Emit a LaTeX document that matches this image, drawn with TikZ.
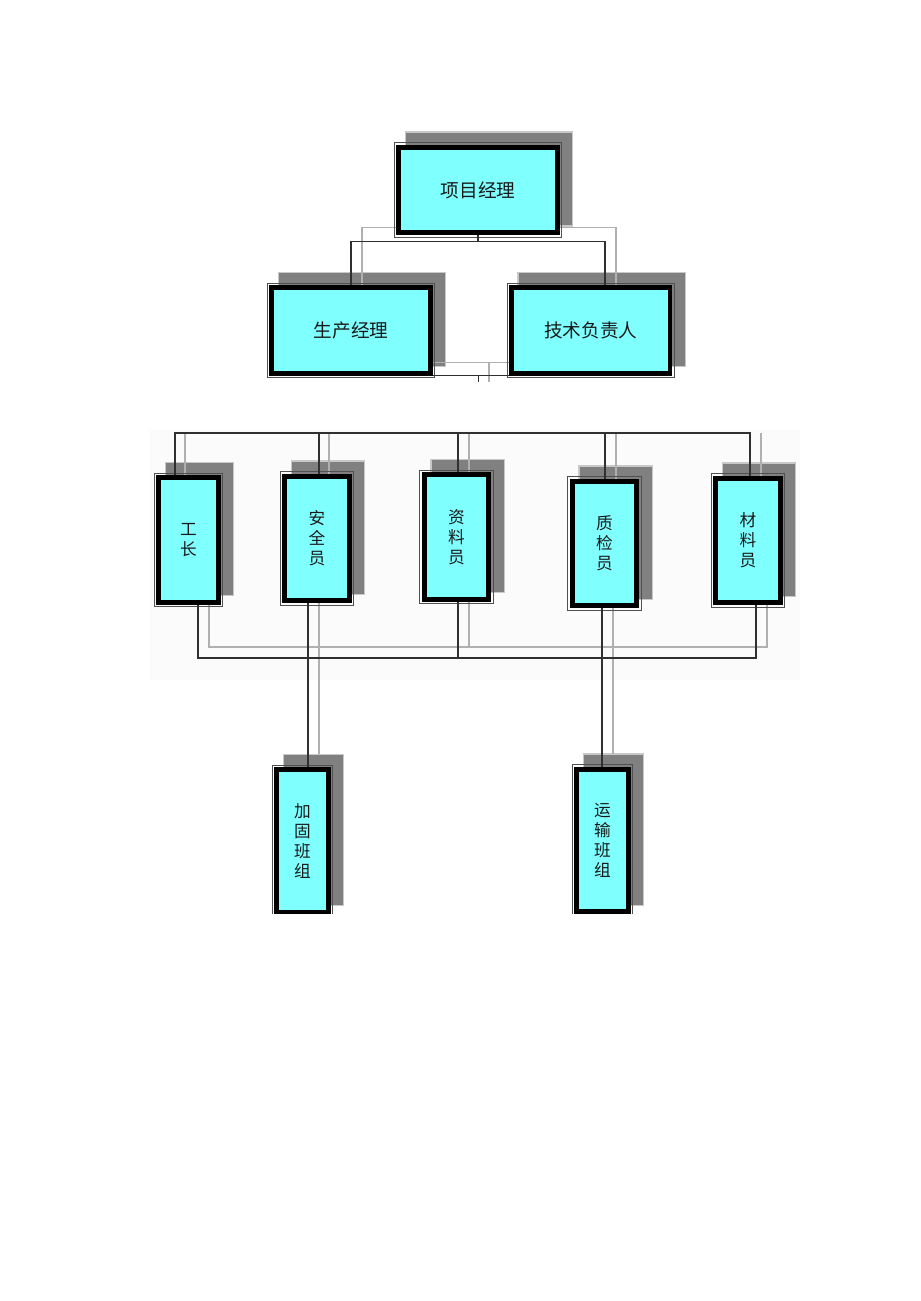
\documentclass[tikz,border=0pt]{standalone}
\usepackage{fontspec}
\usepackage{tikz}
\usetikzlibrary{positioning,backgrounds,calc}
\newfontfamily\cjk{Noto Sans CJK SC}
\definecolor{boxcyan}{RGB}{128,255,255}
\definecolor{rimgray}{RGB}{80,80,80}
\definecolor{shadegray}{RGB}{128,128,128}
\definecolor{edgegray}{RGB}{200,200,200}
\definecolor{wiregray}{RGB}{48,48,48}
\definecolor{litegray}{RGB}{176,176,176}

\begin{document}
\begin{tikzpicture}[x=0.75pt,y=-0.75pt,
  mgr/.style={draw=black,line width=3.6pt,fill=boxcyan,minimum width=119pt,minimum height=64pt,inner sep=0pt,text=black!90,font=\cjk\fontsize{14}{16}\selectfont},
  post/.style={mgr,minimum width=48.5pt,minimum height=93.5pt,align=center,font=\cjk\fontsize{12.5}{15}\selectfont},
  crew/.style={post,minimum width=38.5pt,minimum height=107pt},
  rim/.style={draw=rimgray,line width=0.75pt},
  boxshadow/.style={draw=edgegray,line width=1.1pt,fill=shadegray},
  wire/.style={draw=wiregray,line width=1.4pt},
  wirelite/.style={draw=litegray,line width=1.4pt}
]
\useasboundingbox (0,0) rectangle (920,1301);

\node[mgr] (pm) at (478,190) {项目经理};
\node[mgr] (prod) at (351,330.5) {生产经理};
\node[mgr,right=57.2pt of prod] (tech) {技术负责人};

\node[post,minimum width=44.5pt] (gz) at (188.5,540) {工\\长};
\node[post] (aq) at (317,538.5) {安\\全\\员};
\node[post] (zl) at (456.5,537) {资\\料\\员};
\node[post] (zj) at (604.5,543.5) {质\\检\\员};
\node[post] (cl) at (748,540.5) {材\\料\\员};

\node[crew] (jg) at (302.5,841) {加\\固\\班\\组};
\node[crew] (ys) at (602.5,840.5) {运\\输\\班\\组};

\foreach \n in {pm,prod,tech,gz,aq,zl,zj,cl,jg,ys}
  \draw[rim] ([shift={(-2,2)}]\n.south west) rectangle ([shift={(2,-2)}]\n.north east);

\coordinate (topbus) at (458,433);
\coordinate (lowbus) at (458,658);
\coordinate (lowlite) at (469,647);

% shadows and grey wires behind the boxes
\begin{scope}[on background layer]
\fill[black!1.5] (150,430) rectangle (800,680);
\foreach \n in {pm,prod,tech,gz,aq,zl,zj,cl,jg,ys}
  \draw[boxshadow] ([shift={(9,-9)}]\n.south west) rectangle ([shift={(13,-13)}]\n.north east);
\draw[wirelite] ([shift={(11,2)}]prod.north) |- ([shift={(0,-7.5)}]pm.south) -| ([shift={(25.5,2)}]tech.north);
\draw[wirelite] ([shift={(0,-13)}]prod.south east) -- coordinate[pos=0.74] (stublite) ([shift={(0,-13)}]tech.south west);
\draw[wirelite] (stublite) -- ++(0,19);
\foreach \n/\dx in {gz/-3.5,aq/12,zl/12.5,zj/11.5,cl/13}
  \draw[wirelite] ($(\n.north |- topbus)+(\dx,0)$) -- ($(\n.north)+(\dx,2)$);
\draw[wirelite] ([shift={(20.5,-2)}]gz.south) |- (lowlite) -| ([shift={(19,-2)}]cl.south);
\draw[wirelite] ([shift={(12.5,-2)}]zl.south) -- (lowlite);
\draw[wirelite] ([shift={(2,-2)}]aq.south) -- ([shift={(16.5,-13)}]jg.north);
\draw[wirelite] ([shift={(8.5,-2)}]zj.south) -- ([shift={(10.5,-13)}]ys.north);
\end{scope}

\draw[wire] (pm.south) -- ++(0,6.5) coordinate (pmbus) -| (prod.north);
\draw[wire] (pmbus) -| ([shift={(14.5,0)}]tech.north);
\draw[wire] (prod.south east) -- coordinate[pos=0.6] (stub) (tech.south west);
\draw[wire] (stub) -- ++(0,6);

\draw[wire] ([shift={(-13.5,0)}]gz.north) |- (topbus) -| ([shift={(2,0)}]cl.north);
\foreach \n/\dx in {aq/2,zl/1.5,zj/0.5}
  \draw[wire] ($(\n.north |- topbus)+(\dx,0)$) -- ($(\n.north)+(\dx,0)$);
\draw[wire] ([shift={(9.5,0)}]gz.south) |- (lowbus) -| ([shift={(8,0)}]cl.south);
\draw[wire] ([shift={(1.5,0)}]zl.south) -- (lowbus);
\draw[wire] ([shift={(-9,0)}]aq.south) -- ([shift={(5.5,0)}]jg.north);
\draw[wire] ([shift={(-2.5,0)}]zj.south) -- ([shift={(-0.5,0)}]ys.north);

% the lower boxes are cut off in the source
\fill[white] (0,914) rectangle (920,1301);
\end{tikzpicture}
\end{document}
